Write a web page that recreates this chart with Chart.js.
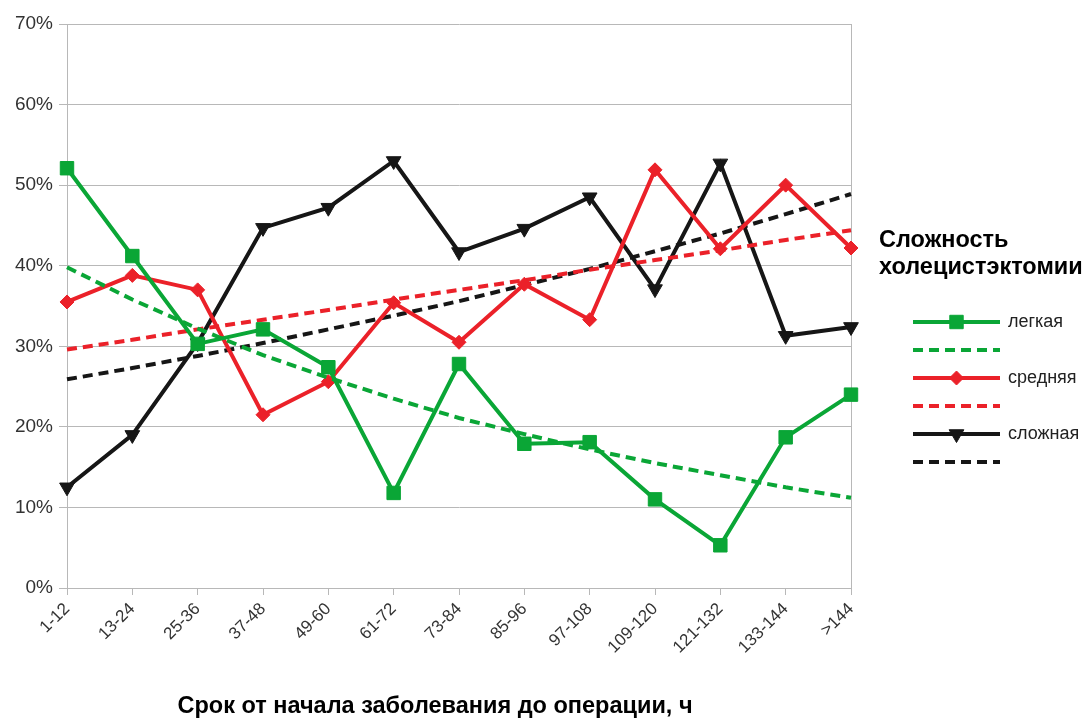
<!DOCTYPE html>
<html>
<head>
<meta charset="utf-8">
<script src="https://cdn.jsdelivr.net/npm/chart.js@4/dist/chart.umd.min.js"></script>
<style>
  html, body { margin: 0; padding: 0; background: #fff; }
  #wrap { width: 1089px; height: 720px; position: relative; }
</style>
</head>
<body>
<div id="wrap"><canvas id="c" width="1089" height="720"></canvas></div>
<script>
// Time from disease onset to surgery, hours (category bins)
const categories = ['1-12', '13-24', '25-36', '37-48', '49-60', '61-72', '73-84',
  '85-96', '97-108', '109-120', '121-132', '133-144', '>144'];

// Share of cholecystectomies by difficulty, %
const lightValues  = [52.1, 41.2, 30.3, 32.1, 27.4, 11.8, 27.8, 17.9, 18.1, 11.0, 5.3, 18.7, 24.0];
const mediumValues = [35.5, 38.8, 37.0, 21.5, 25.6, 35.4, 30.5, 37.7, 33.3, 51.9, 42.1, 50.0, 42.2];
const severeValues = [12.5, 19.0, 30.4, 44.7, 47.2, 53.0, 41.7, 44.6, 48.5, 37.1, 52.7, 31.3, 32.4];

// Trend lines, %
const lightTrend  = [39.8, 35.8, 32.2, 28.9, 26.1, 23.5, 21.1, 19.1, 17.2, 15.5, 14.0, 12.5, 11.2];
const mediumTrend = [29.6, 30.8, 32.1, 33.3, 34.5, 35.8, 37.0, 38.2, 39.5, 40.7, 41.9, 43.2, 44.4];
const severeTrend = [25.9, 27.3, 28.8, 30.4, 32.1, 33.8, 35.6, 37.6, 39.6, 41.8, 44.0, 46.4, 48.9];

const yMin = 0, yMax = 70, yStep = 10;

const seriesNames = ['легкая', 'средняя', 'сложная'];
const legendTitle = ['Сложность', 'холецистэктомии'];
const xTitle = 'Срок от начала заболевания до операции, ч';

const GREEN = '#0aa636';
const RED = '#eb2129';
const BLACK = '#161616';
const GRID = '#b8b8b8';
const FONT = '"Liberation Sans", Arial, sans-serif';

function solid(label, data, color, style, radius, rotation) {
  return {
    label, data, borderColor: color, backgroundColor: color,
    borderWidth: 4, pointStyle: style, pointRadius: radius, pointRotation: rotation || 0,
    pointBorderWidth: 1, pointBackgroundColor: color, pointBorderColor: color,
    tension: 0, fill: false
  };
}
function dashed(label, data, color) {
  return {
    label, data, borderColor: color, backgroundColor: color,
    borderWidth: 4, borderDash: [10, 6], pointRadius: 0, tension: 0, fill: false,
    isTrend: true
  };
}

const datasets = [
  solid(seriesNames[0], lightValues, GREEN, 'rect', 9.5),
  dashed('', lightTrend, GREEN),
  solid(seriesNames[1], mediumValues, RED, 'rectRot', 7),
  dashed('', mediumTrend, RED),
  solid(seriesNames[2], severeValues, BLACK, 'triangle', 8.5, 180),
  dashed('', severeTrend, BLACK)
];

// Legend block and axis title drawn beside the plot
const sidePlugin = {
  id: 'side',
  afterDraw(chart) {
    const ctx = chart.ctx;
    ctx.save();
    ctx.fillStyle = '#000';
    ctx.textBaseline = 'middle';
    ctx.textAlign = 'left';
    ctx.font = 'bold 23.5px ' + FONT;
    ctx.fillText(legendTitle[0], 879, 241);
    ctx.fillText(legendTitle[1], 879, 268);

    const x0 = 913, x1 = 1000, rowY = [322, 350, 378, 406, 434, 462];
    chart.data.datasets.forEach((ds, i) => {
      const y = rowY[i];
      ctx.save();
      ctx.strokeStyle = ds.borderColor;
      ctx.lineWidth = 4;
      ctx.setLineDash(ds.borderDash || []);
      ctx.beginPath();
      ctx.moveTo(x0, y);
      ctx.lineTo(x1, y);
      ctx.stroke();
      ctx.restore();
      if (!ds.isTrend) {
        ctx.fillStyle = ds.borderColor;
        ctx.strokeStyle = ds.borderColor;
        ctx.lineWidth = 1;
        Chart.helpers.drawPoint(ctx, {
          pointStyle: ds.pointStyle, radius: ds.pointRadius, rotation: ds.pointRotation, borderWidth: 1
        }, (x0 + x1) / 2, y);
        ctx.fillStyle = '#222';
        ctx.font = '18px ' + FONT;
        ctx.fillText(ds.label, 1008, y);
      }
    });

    ctx.textAlign = 'center';
    ctx.fillStyle = '#000';
    ctx.font = 'bold 23.5px ' + FONT;
    ctx.fillText(xTitle, 435, 707);
    ctx.restore();
  }
};

new Chart(document.getElementById('c'), {
  type: 'line',
  data: { labels: categories, datasets },
  options: {
    responsive: false,
    animation: false,
    layout: { padding: { left: 0, top: 24, right: 238, bottom: 0 } },
    plugins: { legend: { display: false }, tooltip: { enabled: false } },
    scales: {
      x: {
        offset: false,
        grid: {
          color: c => (c.index === 0 || c.index === categories.length - 1) ? GRID : 'rgba(0,0,0,0)',
          tickColor: GRID, tickLength: 7, lineWidth: 1
        },
        border: { color: GRID },
        ticks: {
          color: '#333', font: { family: FONT, size: 17 }, padding: 4,
          maxRotation: 45, minRotation: 45, autoSkip: false
        },
        afterFit: s => { s.height = 132; }
      },
      y: {
        min: yMin, max: yMax,
        grid: { color: GRID, tickColor: GRID, tickLength: 8, lineWidth: 1 },
        border: { color: GRID },
        ticks: {
          stepSize: yStep, color: '#333', font: { family: FONT, size: 19 }, padding: 6,
          callback: v => v + '%'
        },
        afterFit: s => { s.width = 67; }
      }
    }
  },
  plugins: [sidePlugin]
});
</script>
</body>
</html>
